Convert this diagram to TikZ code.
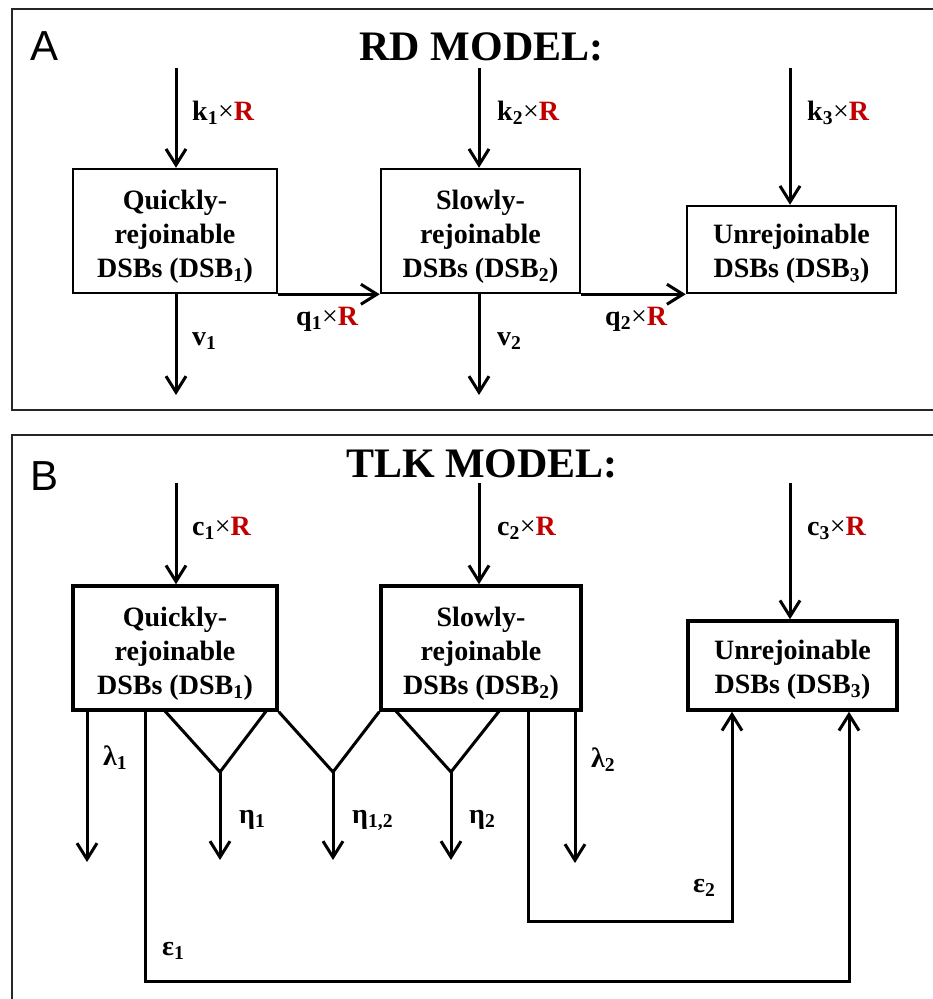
\documentclass[tikz,border=0pt]{standalone}
\usepackage{fontspec}
\setmainfont{Liberation Serif}
\newfontfamily\panelfont{Liberation Sans}
\usetikzlibrary{arrows.meta,calc}
\definecolor{rateRed}{RGB}{192,0,0}
\newcommand\redR{\textcolor{rateRed}{R}}
\newcommand\tms{{\mdseries ×}}
% taller first line so the text block sits a little low in its box
\newcommand\toppad[1]{\rule{0pt}{#1pt}}
\begin{document}
\begin{tikzpicture}[x=1pt,y=-1pt,
  frame/.style={draw=black!85, line width=2pt},
  boxA/.style={draw, line width=2.5pt, inner sep=0pt, align=center,
    font=\fontsize{28}{34}\selectfont\bfseries},
  boxB/.style={boxA, line width=3.5pt},
  flow/.style={line width=3pt, -{Straight Barb[length=16pt,width=20pt]}},
  plain/.style={line width=3pt},
  lbl/.style={anchor=base west, inner sep=0pt, font=\fontsize{28}{34}\selectfont\bfseries},
  title/.style={anchor=base, inner sep=0pt, font=\fontsize{42}{50}\selectfont\bfseries},
  tag/.style={anchor=base west, inner sep=0pt, font=\fontsize{42}{50}\selectfont\panelfont},
]
\useasboundingbox (0,0) rectangle (933,999);
\clip (0,0) rectangle (933,999);
\fill[white] (0,0) rectangle (933,999);

% ---------- panel A: RD model ----------
\draw[frame] (12,9) rectangle (950,410);
\node[tag] (tagA) at (30,60) {A};
\node[title] (titleA) at (481.5,60) {RD MODEL:};

\node[boxA, minimum width=204, minimum height=124] (qa) at (175,231)
  {\toppad{31}Quickly-\\rejoinable\\DSBs (DSB\textsubscript{1})};
\node[boxA, minimum width=199, minimum height=124] (sa) at (480.5,231)
  {\toppad{31}Slowly-\\rejoinable\\DSBs (DSB\textsubscript{2})};
\node[boxA, minimum width=209, minimum height=87] (ua) at (791.5,249.5)
  {\toppad{28}Unrejoinable\\DSBs (DSB\textsubscript{3})};

\coordinate (ka1) at (176,68);
\coordinate (ka2) at (479,68);
\coordinate (ka3) at (790,68);
\draw[flow] (ka1) -- (ka1 |- qa.north);
\draw[flow] (ka2) -- (ka2 |- sa.north);
\draw[flow] (ka3) -- (ka3 |- ua.north);

\coordinate (va1) at (176,395);
\coordinate (va2) at (479,395);
\draw[flow] (va1 |- qa.south) -- (va1);
\draw[flow] (va2 |- sa.south) -- (va2);

\draw[flow] (qa.south east) -- (sa.south west);
\draw[flow] (sa.south east) -- (ua.south west);

\node[lbl] (k1) at (192,120) {k\textsubscript{1}\tms\redR};
\node[lbl] (k2) at (497,120) {k\textsubscript{2}\tms\redR};
\node[lbl] (k3) at (807,120) {k\textsubscript{3}\tms\redR};
\node[lbl] (v1) at (192,345) {v\textsubscript{1}};
\node[lbl] (v2) at (497,345) {v\textsubscript{2}};
\node[lbl] (q1) at (296,325) {q\textsubscript{1}\tms\redR};
\node[lbl] (q2) at (605,325) {q\textsubscript{2}\tms\redR};

% ---------- panel B: TLK model ----------
\draw[frame] (12,435) rectangle (950,1010);
\node[tag] (tagB) at (30,490) {B};
\node[title] (titleB) at (482,477) {TLK MODEL:};

\node[boxB, minimum width=204, minimum height=124] (qb) at (175,648)
  {\toppad{31}Quickly-\\rejoinable\\DSBs (DSB\textsubscript{1})};
\node[boxB, minimum width=200, minimum height=124] (sb) at (481,648)
  {\toppad{31}Slowly-\\rejoinable\\DSBs (DSB\textsubscript{2})};
\node[boxB, minimum width=209, minimum height=89] (ub) at (792.5,665.5)
  {\toppad{28}Unrejoinable\\DSBs (DSB\textsubscript{3})};

\coordinate (kb1) at (176,483);
\coordinate (kb2) at (479,483);
\coordinate (kb3) at (790,483);
\draw[flow] (kb1) -- (kb1 |- qb.north);
\draw[flow] (kb2) -- (kb2 |- sb.north);
\draw[flow] (kb3) -- (kb3 |- ub.north);

% loss of DSB1 and DSB2 (lambda)
\coordinate (l1) at (87,862);
\coordinate (l2) at (575,863);
\draw[flow] (l1 |- qb.south) -- (l1);
\draw[flow] (l2 |- sb.south) -- (l2);

% pairwise interactions (eta)
\coordinate (n1l) at (164,710);
\coordinate (n1r) at (267,710);
\coordinate (n1) at (220,772);
\coordinate (n1d) at (220,860);
\draw[plain] (n1l) -- (n1) -- (n1r);
\draw[flow] (n1) -- (n1d);

\coordinate (n12) at (333,772);
\coordinate (n12d) at (333,860);
\draw[plain] (qb.south east) -- (n12) -- (sb.south west);
\draw[flow] (n12) -- (n12d);

\coordinate (n2l) at (395,710);
\coordinate (n2r) at (500,710);
\coordinate (n2) at (451,772);
\coordinate (n2d) at (451,860);
\draw[plain] (n2l) -- (n2) -- (n2r);
\draw[flow] (n2) -- (n2d);

% conversion to unrejoinable DSBs (epsilon)
\coordinate (e2a) at (528,921);
\coordinate (e2b) at (732,921);
\draw[flow] (e2a |- sb.south) -- (e2a) -- (e2b) -- (e2b |- ub.south);
\coordinate (e1a) at (145,981);
\coordinate (e1b) at (849,981);
\draw[flow] (e1a |- qb.south) -- (e1a) -- (e1b) -- (e1b |- ub.south);

\node[lbl] (c1) at (192,535) {c\textsubscript{1}\tms\redR};
\node[lbl] (c2) at (497,535) {c\textsubscript{2}\tms\redR};
\node[lbl] (c3) at (807,535) {c\textsubscript{3}\tms\redR};
\node[lbl] (lam1) at (103,765) {λ\textsubscript{1}};
\node[lbl] (lam2) at (591,767) {λ\textsubscript{2}};
\node[lbl] (eta1) at (239,823) {η\textsubscript{1}};
\node[lbl] (eta12) at (352,823) {η\textsubscript{1,2}};
\node[lbl] (eta2) at (469,823) {η\textsubscript{2}};
\node[lbl] (eps2) at (693,892) {ε\textsubscript{2}};
\node[lbl] (eps1) at (162,955) {ε\textsubscript{1}};
\end{tikzpicture}
\end{document}
